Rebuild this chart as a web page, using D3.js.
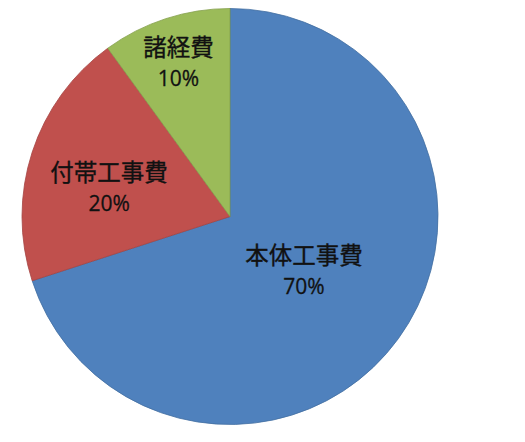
<!DOCTYPE html>
<html>
<head>
<meta charset="utf-8">
<script src="https://cdn.jsdelivr.net/npm/d3@7"></script>
<style>
  html, body { margin: 0; padding: 0; background: #fff; }
  svg { display: block; }
</style>
</head>
<body>
<div id="chart"></div>
<script>
(function() {
  'use strict';

  // Chart data
  const categories = ['本体工事費', '付帯工事費', '諸経費'];
  const values = [70, 20, 10];
  const colors = ['#4f81bd', '#c0504d', '#9bbb59'];

  const width = 525;
  const height = 442;
  const cx = 230;
  const cy = 216.5;
  const radius = 208;

  // "best fit" label placement: fraction of radius, angle nudge in degrees
  const labelFit = [
    { r: 0.449, a: 1.6 },
    { r: 0.595, a: -5.7 },
    { r: 0.768, a: -0.8 }
  ];

  const data = categories.map((name, i) => ({ name, value: values[i], color: colors[i], fit: labelFit[i] }));
  const total = d3.sum(values);

  const svg = d3.select('#chart')
    .append('svg')
    .attr('width', width)
    .attr('height', height);

  const pie = d3.pie()
    .sort(null)
    .value(d => d.value);

  const arc = d3.arc()
    .innerRadius(0)
    .outerRadius(radius);

  const arcs = pie(data);

  const g = svg.append('g')
    .attr('transform', `translate(${cx},${cy})`);

  g.selectAll('path')
    .data(arcs)
    .join('path')
    .attr('d', arc)
    .attr('fill', d => d.data.color)
    .attr('stroke', d => d3.color(d.data.color).darker(0.45))
    .attr('stroke-width', 0.8);

  const label = g.selectAll('g.label')
    .data(arcs)
    .join('g')
    .attr('class', 'label')
    .attr('transform', d => {
      const mid = (d.startAngle + d.endAngle) / 2 + d.data.fit.a * Math.PI / 180;
      const r = radius * d.data.fit.r;
      return `translate(${r * Math.sin(mid)},${-r * Math.cos(mid)})`;
    });

  label.append('text')
    .attr('text-anchor', 'middle')
    .attr('y', -9)
    .attr('font-family', '"Noto Sans CJK JP", sans-serif')
    .attr('font-size', 23.5)
    .attr('fill', '#111')
    .attr('stroke', '#111')
    .attr('stroke-width', 0.35)
    .text(d => d.data.name);

  label.append('text')
    .attr('text-anchor', 'middle')
    .attr('y', 20.5)
    .attr('font-family', '"Open Sans", sans-serif')
    .attr('font-size', 21)
    .attr('fill', '#111')
    .attr('stroke', '#111')
    .attr('stroke-width', 0.3)
    .text(d => Math.round(d.data.value / total * 100) + '%');
})();
</script>
</body>
</html>
